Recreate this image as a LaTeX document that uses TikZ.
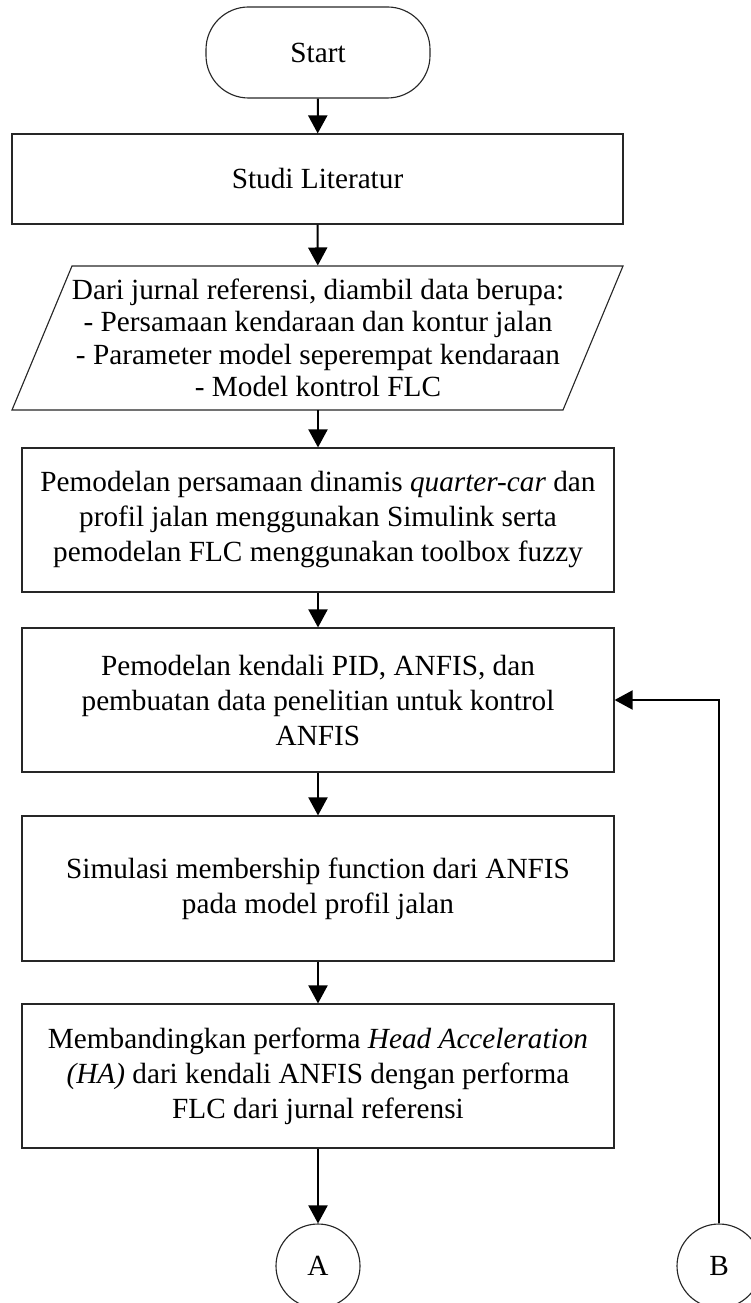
\documentclass[tikz,border=0pt]{standalone}
\usepackage{fontspec}
\setmainfont{Liberation Serif}
\usetikzlibrary{arrows.meta}
\tikzset{
  boxline/.style={draw=black!85, line width=0.45pt},
  terminal/.style={boxline, rounded corners=17pt, minimum width=89.6pt, minimum height=36.4pt,
                   inner sep=0pt, font=\fontsize{11.7}{14}\selectfont},
  procbox/.style={boxline, minimum width=236.8pt, minimum height=57.6pt, inner sep=0pt,
                  align=center, font=\fontsize{11.7}{14}\selectfont},
  iotext/.style={minimum width=220pt, minimum height=57.6pt, inner sep=0pt,
                 align=center, font=\fontsize{11.7}{13}\selectfont},
  connector/.style={boxline, circle, minimum size=33.6pt, inner sep=0pt,
                    font=\fontsize{11.7}{14}\selectfont},
  flow/.style={line width=0.8pt, -{Triangle[length=7.2pt, width=7.6pt]}},
}

\begin{document}
\begin{tikzpicture}[x=0.4pt, y=-0.4pt]
    \useasboundingbox (0,0) rectangle (751,1303);
    \node[terminal] (start) at (318,52.5) {Start};
    \node[procbox, minimum width=244.4pt, minimum height=36pt] (lit) at (317.5,179) {Studi Literatur};
    % data masukan
    \draw[boxline] (72,266) -- (623,266) -- (563,410) -- (12,410) -- cycle;
    \node[iotext] (data) at (318,338) {Dari jurnal referensi, diambil data berupa:\\
      - Persamaan kendaraan dan kontur jalan\\
      - Parameter model seperempat kendaraan\\
      - Model kontrol FLC};
    \node[procbox] (model) at (318,520) {Pemodelan persamaan dinamis \textit{quarter-car} dan\\
      profil jalan menggunakan Simulink serta\\
      pemodelan FLC menggunakan toolbox fuzzy};
    \node[procbox] (anfis) at (318,700) {Pemodelan kendali PID, ANFIS, dan\\
      pembuatan data penelitian untuk kontrol\\
      ANFIS};
    \node[procbox, minimum height=58pt] (simul) at (318,888.5) {Simulasi membership function dari ANFIS\\
      pada model profil jalan};
    \node[procbox] (banding) at (318,1076) {Membandingkan performa \textit{Head Acceleration}\\
      \textit{(HA)} dari kendali ANFIS dengan performa\\
      FLC dari jurnal referensi};
    \node[connector] (conA) at (318,1266) {A};
    \node[connector] (conB) at (719,1266) {B};

    \draw[flow] (start) -- (lit);
    \draw[flow] (lit) -- (data);
    \draw[flow] (data) -- (model);
    \draw[flow] (model) -- (anfis);
    \draw[flow] (anfis) -- (simul);
    \draw[flow] (simul) -- (banding);
    \draw[flow] (banding) -- (conA);
    \draw[flow] (conB) |- (anfis.east);
\end{tikzpicture}
\end{document}
